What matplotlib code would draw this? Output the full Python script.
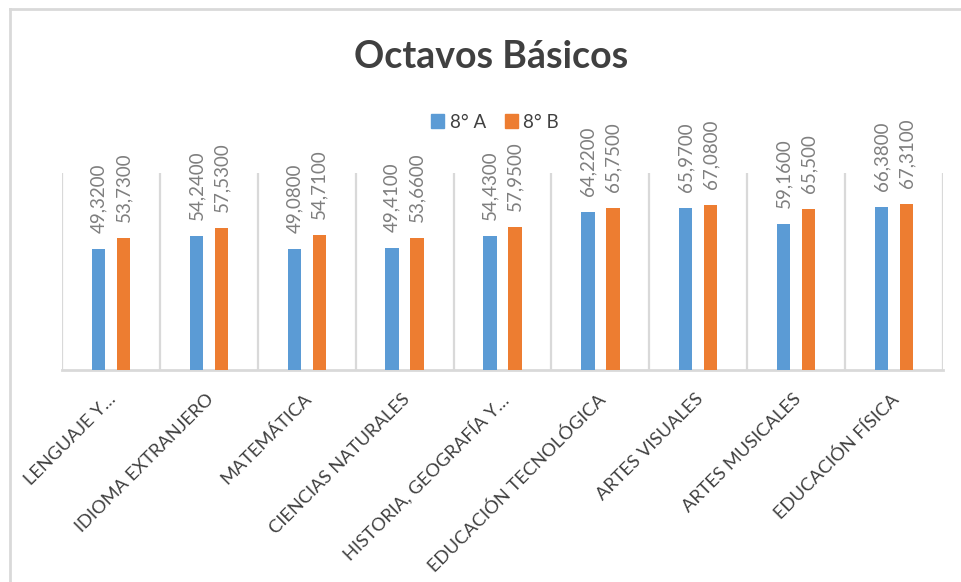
import matplotlib
matplotlib.use("Agg")
import matplotlib.pyplot as plt
from matplotlib.lines import Line2D
from matplotlib.patches import Patch
import matplotlib.transforms as mtransforms
import numpy as np

categories = ["LENGUAJE Y…", "IDIOMA EXTRANJERO", "MATEMÁTICA", "CIENCIAS NATURALES",
              "HISTORIA, GEOGRAFÍA Y…", "EDUCACIÓN TECNOLÓGICA", "ARTES VISUALES",
              "ARTES MUSICALES", "EDUCACIÓN FÍSICA"]
series_names = ["8° A", "8° B"]
values_a = [49.32, 54.24, 49.08, 49.41, 54.43, 64.22, 65.97, 59.16, 66.38]
values_b = [53.73, 57.53, 54.71, 53.66, 57.95, 65.75, 67.08, 65.50, 67.31]
labels_a = ["49,3200", "54,2400", "49,0800", "49,4100", "54,4300", "64,2200", "65,9700", "59,1600", "66,3800"]
labels_b = ["53,7300", "57,5300", "54,7100", "53,6600", "57,9500", "65,7500", "67,0800", "65,500", "67,3100"]
title = "Octavos Básicos"

plt.rcParams['font.family'] = ['Lato', 'DejaVu Sans']

BLUE = "#5B9BD5"
ORANGE = "#ED7D31"
GRID = "#D9D9D9"

fig = plt.figure(figsize=(9.62, 5.82), dpi=100)
ax = fig.add_axes([62/962, 1-370/582, (943-62)/962, (370-173)/582])

x = np.arange(len(categories))
w = 0.136
off = 0.128
ax.bar(x - off, values_a, w, color=BLUE, label=series_names[0], zorder=3)
ax.bar(x + off, values_b, w, color=ORANGE, label=series_names[1], zorder=3)

ax.set_xlim(-0.5, len(categories) - 0.5)
ax.set_ylim(0, 80)

# category separator lines
for b in np.arange(-0.5, len(categories), 1.0):
    ax.axvline(b, color=GRID, lw=1.6, zorder=1)
for s in ["top", "right", "left"]:
    ax.spines[s].set_visible(False)
ax.spines["bottom"].set_color(GRID)
ax.spines["bottom"].set_linewidth(2)
ax.set_yticks([])
ax.set_xticks([])

# data labels
lab_off = mtransforms.offset_copy(ax.transData, fig=fig, x=0, y=16, units='dots')
for xi, v, t in zip(x - off, values_a, labels_a):
    ax.text(xi, v, t, rotation=90, ha='center', va='bottom', fontsize=13.5,
            color='#7F7F7F', transform=lab_off)
for xi, v, t in zip(x + off, values_b, labels_b):
    ax.text(xi, v, t, rotation=90, ha='center', va='bottom', fontsize=13.5,
            color='#7F7F7F', transform=lab_off)

# category labels
cat_tr = mtransforms.offset_copy(ax.get_xaxis_transform(), fig=fig, x=-3, y=-21, units='dots')
for xi, c in zip(x, categories):
    ax.text(xi, 0, c, rotation=45, rotation_mode='anchor', ha='right', va='top',
            fontsize=13.2, color='#404040', transform=cat_tr)

fig.text(491/962, 1-57/582, title, ha='center', va='center', fontsize=27,
         fontweight='bold', color='#404040')

handles = [Patch(color=BLUE), Patch(color=ORANGE)]
fig.legend(handles, series_names, loc='center', bbox_to_anchor=(495/962, 1-122/582),
           ncol=2, frameon=False, fontsize=13.5, handlelength=0.7, handleheight=0.7,
           handletextpad=0.3, columnspacing=1.0, labelcolor='#404040')

# chart border (top and left visible)
fig.add_artist(Line2D([10/962, 10/962], [0, 1-8.5/582], transform=fig.transFigure,
                      color=GRID, lw=2))
fig.add_artist(Line2D([10/962, 1], [1-8.5/582, 1-8.5/582], transform=fig.transFigure,
                      color=GRID, lw=2))

fig.savefig("out.png", dpi=100)
